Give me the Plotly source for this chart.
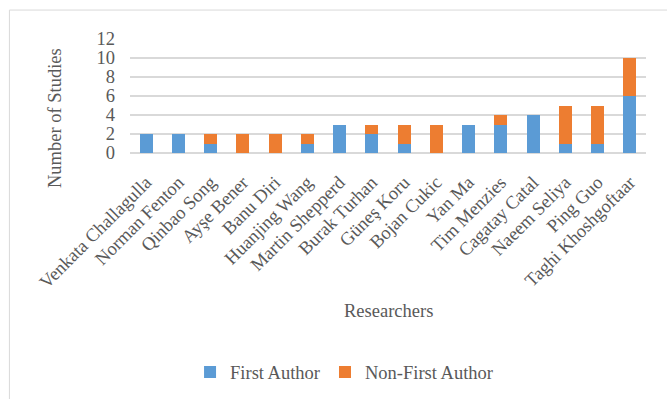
import plotly.graph_objects as go

researchers = [
    "Venkata Challagulla", "Norman Fenton", "Qinbao Song", "Ayşe Bener",
    "Banu Diri", "Huanjing Wang", "Martin Shepperd", "Burak Turhan",
    "Güneş Koru", "Bojan Cukic", "Yan Ma", "Tim Menzies", "Cagatay Catal",
    "Naeem Seliya", "Ping Guo", "Taghi Khoshgoftaar",
]
first_author = [2, 2, 1, 0, 0, 1, 3, 2, 1, 0, 3, 3, 4, 1, 1, 6]
non_first_author = [0, 0, 1, 2, 2, 1, 0, 1, 2, 3, 0, 1, 0, 4, 4, 4]
y_ticks = [0, 2, 4, 6, 8, 10, 12]

FONT = "Liberation Serif, Times New Roman, serif"
TEXT = "#595959"
GRID = "#d9d9d9"
FS = 18.5

W, H = 667, 399
L, R, T, B = 130, 21.4, 39.3, 246.3
pw, ph = W - L - R, H - T - B


def px_x(x):
    return (x - L) / pw


def px_y(y):
    return (H - B - y) / ph


fig = go.Figure()
fig.add_bar(x=researchers, y=first_author, name="First Author",
            marker=dict(color="#5B9BD5", line=dict(width=0)))
fig.add_bar(x=researchers, y=non_first_author, name="Non-First Author",
            marker=dict(color="#ED7D31", line=dict(width=0)))

fig.update_layout(
    width=W, height=H,
    margin=dict(l=L, r=R, t=T, b=B, autoexpand=False),
    barmode="stack", bargap=0.6,
    paper_bgcolor="white", plot_bgcolor="white",
    font=dict(family=FONT, color=TEXT, size=FS),
    showlegend=True,
    legend=dict(orientation="h", x=px_x(190), y=px_y(371), yanchor="middle",
                xanchor="left", font=dict(size=FS, color=TEXT, family=FONT),
                itemwidth=30, tracegroupgap=0, traceorder="normal"),
    xaxis=dict(tickangle=-45, showgrid=False, showline=False, ticks="",
               ticklabelstandoff=14,
               tickfont=dict(size=FS, color=TEXT), automargin=False),
    yaxis=dict(range=[0, 12], tickvals=y_ticks, showgrid=True, gridcolor=GRID,
               gridwidth=1.5, zeroline=True, zerolinecolor=GRID, zerolinewidth=1.5,
               showline=False, ticks="", ticklabelstandoff=14,
               tickfont=dict(size=FS, color=TEXT), automargin=False),
    shapes=[dict(type="rect", xref="paper", yref="paper",
                 x0=px_x(9.5), x1=px_x(700), y0=px_y(430), y1=px_y(10.5),
                 line=dict(color=GRID, width=1), fillcolor="rgba(0,0,0,0)",
                 layer="below")],
    annotations=[
        dict(text="Number of Studies", xref="paper", yref="paper",
             x=px_x(54.5), y=px_y(117.5), textangle=-90, showarrow=False,
             font=dict(size=FS, color=TEXT, family=FONT),
             xanchor="center", yanchor="middle"),
        dict(text="Researchers", xref="paper", yref="paper",
             x=0.5, y=px_y(310), showarrow=False,
             font=dict(size=FS, color=TEXT, family=FONT),
             xanchor="center", yanchor="middle"),
    ],
)

fig.write_html("out.html")
